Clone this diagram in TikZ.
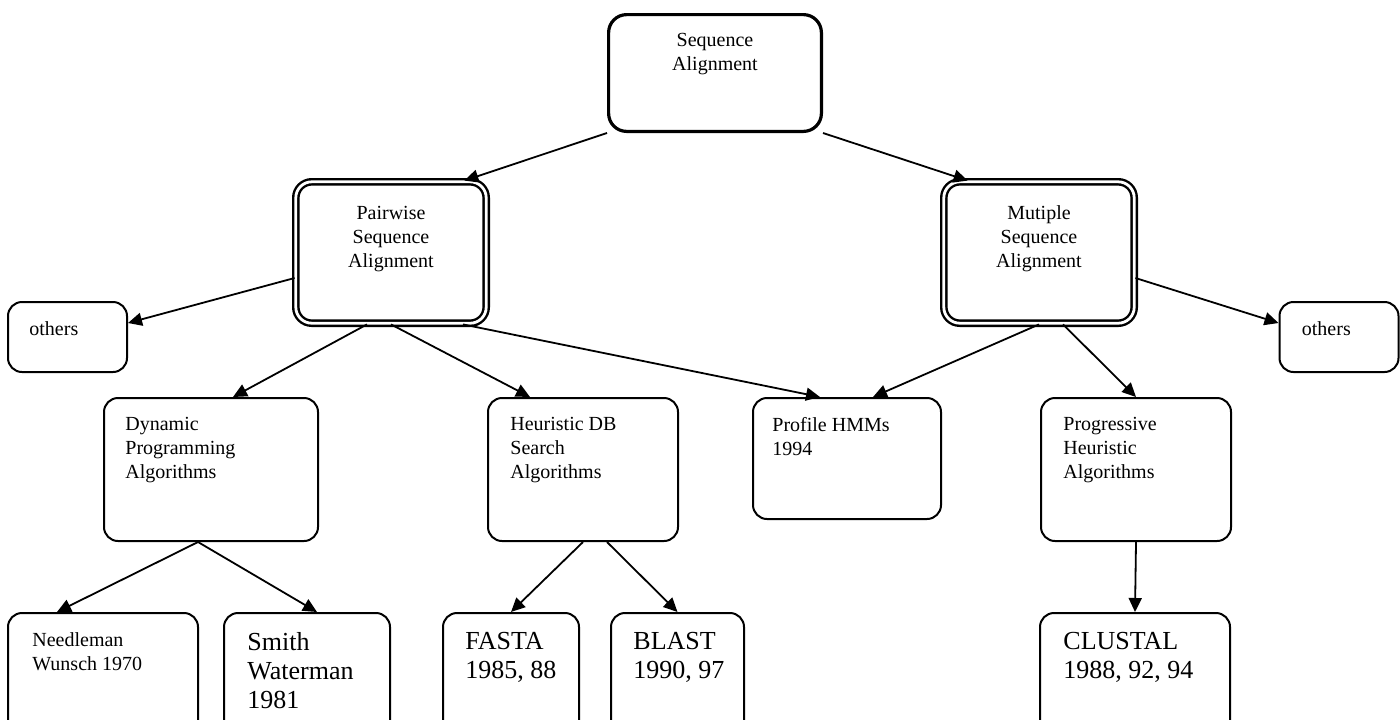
\documentclass[tikz,border=0pt]{standalone}
\usepackage{fontspec}
\setmainfont{Liberation Serif}
\usepackage{tikz}
\usetikzlibrary{positioning}
\usetikzlibrary{arrows.meta}

\begin{document}
\begin{tikzpicture}[x=0.5pt,y=-0.5pt,
  box/.style = {draw,line width=1pt,rounded corners=7pt,inner sep=0pt,
        minimum width=#1},
  topbox/.style = {draw,line width=1.6pt,rounded corners=9pt,inner sep=0pt,
        minimum width=106.4pt,minimum height=58.4pt},
  dbox/.style = {draw,line width=1.2pt,double,double distance=1.4pt,
        rounded corners=8pt,inner sep=0pt,
        minimum width=95.2pt,minimum height=70.7pt},
  txt/.style = {inner sep=0pt,align=left,font=\fontsize{10}{12}\selectfont},
  big/.style = {inner sep=0pt,align=left,font=\fontsize{13}{14.5}\selectfont}
]
 \useasboundingbox (0,0) rectangle (1400,719);
 \clip (0,0) rectangle (1400,719);
 % boxes
 \node[topbox] (sa) at (715,73) {};
 \node[dbox] (psa) at (391,252.5) {};
 \node[dbox] (msa) at (1039,252.5) {};
 \node[box=59.5pt,minimum height=35pt] (oth1) at (67.5,337) {};
 \node[box=59.5pt,minimum height=35pt] (oth2) at (1339,337) {};
 \node[box=107pt,minimum height=71.5pt] (dp) at (211,469.5) {};
 \node[box=95pt,minimum height=71.5pt] (hdb) at (583,469.5) {};
 \node[box=94pt,minimum height=60.5pt] (phmm) at (847,458.5) {};
 \node[box=95pt,minimum height=71.5pt] (pha) at (1136,469.5) {};
 \node[box=95pt,minimum height=73.5pt] (nw) at (103,686.5) {};
 \node[box=83pt,minimum height=73.5pt] (sw) at (307,686.5) {};
 \node[box=68pt,minimum height=73.5pt] (fasta) at (511,686.5) {};
 \node[box=66.5pt,minimum height=73.5pt] (blast) at (677.5,686.5) {};
 \node[box=95pt,minimum height=73.5pt] (clustal) at (1135,686.5) {};
 % texts
 \node[txt,align=center,below=10pt of sa.north] (sa-t) {Sequence\\Alignment};
 \node[txt,align=center,below=12.5pt of psa.north] (psa-t) {Pairwise\\Sequence\\Alignment};
 \node[txt,align=center,below=12.5pt of msa.north] (msa-t) {Mutiple\\Sequence\\Alignment};
 \node[txt,below right=10pt and 11pt of oth1.north west] (oth1-t) {others};
 \node[txt,below right=10pt and 11.5pt of oth2.north west] (oth2-t) {others};
 \node[txt,below right=10pt and 11pt of dp.north west] (dp-t) {Dynamic\\Programming\\Algorithms};
 \node[txt,below right=10pt and 11.5pt of hdb.north west] (hdb-t) {Heuristic DB\\Search\\Algorithms};
 \node[txt,below right=10pt and 10pt of phmm.north west] (phmm-t) {Profile HMMs\\1994};
 \node[txt,below right=10pt and 11.5pt of pha.north west] (pha-t) {Progressive\\Heuristic\\Algorithms};
 \node[txt,below right=10pt and 12.5pt of nw.north west] (nw-t) {Needleman\\Wunsch 1970};
 \node[big,below right=10pt and 12pt of sw.north west] (sw-t) {Smith\\Waterman\\1981};
 \node[big,below right=10pt and 11.5pt of fasta.north west] (fasta-t) {FASTA\\1985, 88};
 \node[big,below right=10pt and 11.5pt of blast.north west] (blast-t) {BLAST\\1990, 97};
 \node[big,below right=10pt and 12pt of clustal.north west] (clustal-t) {CLUSTAL\\1988, 92, 94};
 % connectors
 \begin{scope}[line width=0.9pt,-{Triangle[length=7pt,width=6.5pt]}]
  \draw (sa.south west) -- ([xshift=-11.5pt]psa.north east);
  \draw (sa.south east) -- ([xshift=12.5pt]msa.north west);
  \draw ([yshift=-12.75pt]psa.west) -- ([yshift=7pt]oth1.east);
  \draw ([xshift=-12pt]psa.south) -- ([xshift=11pt]dp.north);
  \draw (psa.south) -- ([xshift=-26.5pt]hdb.north);
  \draw ([xshift=36pt]psa.south) -- ([xshift=-13.5pt]phmm.north);
  \draw (msa.south) -- ([xshift=13pt]phmm.north);
  \draw ([xshift=12pt]msa.south) -- (pha.north);
  \draw ([yshift=-12.75pt]msa.east) -- ([yshift=7pt]oth2.west);
  \draw ([xshift=-6.5pt]dp.south) -- ([xshift=-23pt]nw.north);
  \draw ([xshift=-6.5pt]dp.south) -- ([xshift=5pt]sw.north);
  \draw (hdb.south) -- (fasta.north);
  \draw ([xshift=12pt]hdb.south) -- (blast.north);
  \draw (pha.south) -- (clustal.north);
 \end{scope}
\end{tikzpicture}
\end{document}
